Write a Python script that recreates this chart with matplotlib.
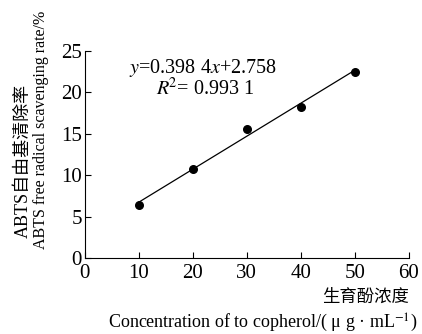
import matplotlib.pyplot as plt
import numpy as np

plt.rcParams['font.family'] = ['Liberation Serif', 'Noto Sans CJK SC']
plt.rcParams['mathtext.fontset'] = 'stix'

# data
conc = [10, 20, 30, 40, 50]
rate = [6.4, 10.7, 15.6, 18.2, 22.5]
slope = 0.3984
intercept = 2.758
xticks = [0, 10, 20, 30, 40, 50, 60]
yticks = [0, 5, 10, 15, 20, 25]

fig = plt.figure(figsize=(4.22, 3.34), dpi=100)
ax = fig.add_axes([0.201, 0.2275, 0.768, 0.62])

fit_x = np.array([conc[0], conc[-1]])
ax.plot(fit_x, slope * fit_x + intercept, color='black', lw=0.9)
ax.scatter(conc, rate, color='black', s=30, zorder=3)

ax.set_xlim(0, 60)
ax.set_ylim(0, 25)
ax.set_xticks(xticks)
ax.set_yticks(yticks)
ax.tick_params(direction='in', length=4, width=0.8, labelsize=15)
ax.tick_params(axis='x', pad=4)
ax.tick_params(axis='y', pad=2)
for s in ['top', 'right']:
    ax.spines[s].set_visible(False)
for s in ['left', 'bottom']:
    ax.spines[s].set_linewidth(0.8)

ax.text(21.9, 22.9, r'$y$=0.398 4$x$+2.758', ha='center', va='center', fontsize=14.5)
ax.text(22.2, 20.4, r'$R$$^2$= 0.993 1', ha='center', va='center', fontsize=14.5)

fig.text(0.055, 0.518, 'ABTS自由基清除率', rotation=90, ha='center', va='center', fontsize=13)
fig.text(0.097, 0.61, 'ABTS free radical scavenging rate/%', rotation=90, ha='center', va='center', fontsize=11.5)
fig.text(0.969, 0.108, '生育酚浓度', ha='right', va='center', fontsize=12.5)
fig.text(0.99, 0.033, r'Concentration of to copherol/( μ g · mL$^{-1}$)', ha='right', va='center', fontsize=13)

fig.savefig('out.png', dpi=100)
